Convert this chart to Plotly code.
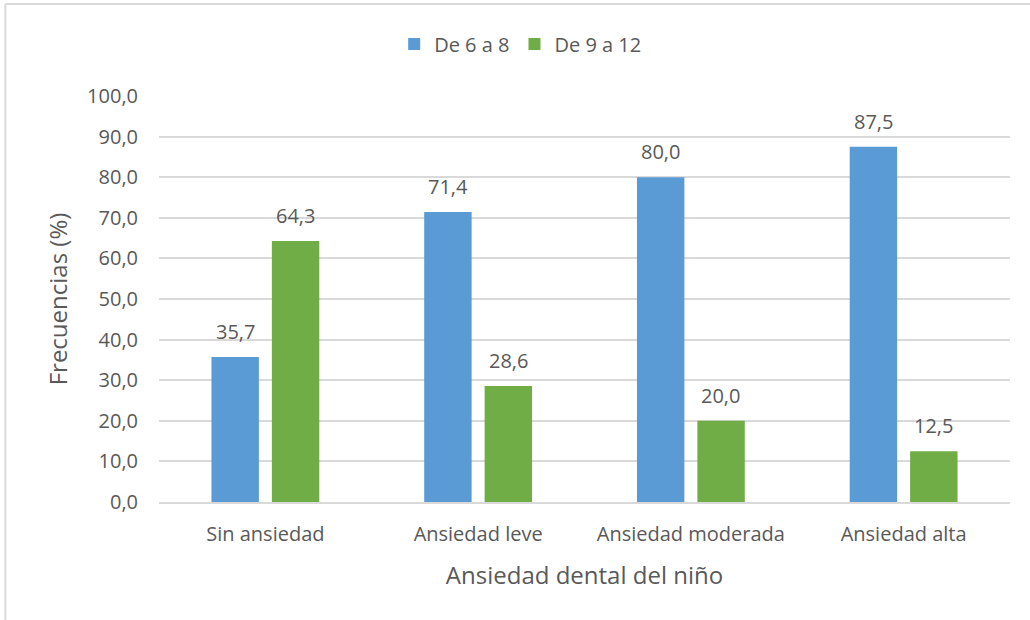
import plotly.graph_objects as go

# Categories and percentages per age group
categorias = ["Sin ansiedad", "Ansiedad leve", "Ansiedad moderada", "Ansiedad alta"]
grupo_6_8 = [35.7, 71.4, 80.0, 87.5]
grupo_9_12 = [64.3, 28.6, 20.0, 12.5]
series = [("De 6 a 8", grupo_6_8, "#5B9BD5"), ("De 9 a 12", grupo_9_12, "#70AD47")]

FONT = "Open Sans"
GRIS = "#595959"

fig = go.Figure()
for nombre, valores, color in series:
    fig.add_trace(go.Bar(
        x=categorias, y=valores, name=nombre,
        marker=dict(color=color, line=dict(width=0)),
    ))

# Value labels above each bar (offset to the bar's slot within its group)
desplazamientos = [-30, 30]
for (nombre, valores, color), dx in zip(series, desplazamientos):
    for cat, v in zip(categorias, valores):
        fig.add_annotation(
            x=cat, y=v, text=f"{v:.1f}".replace(".", ","),
            showarrow=False, xshift=dx, yshift=10, yanchor="bottom",
            font=dict(family=FONT, size=20, color=GRIS),
        )

# Thin outer frame on the top and left edges
fig.add_shape(type="line", xref="paper", yref="paper", x0=-0.18, x1=1.03,
              y0=1.2265, y1=1.2265, line=dict(color="#d9d9d9", width=2))
fig.add_shape(type="line", xref="paper", yref="paper", x0=-0.1805, x1=-0.1805,
              y0=-0.3, y1=1.2265, line=dict(color="#d9d9d9", width=2))

fig.update_layout(
    width=1030, height=620,
    margin=dict(l=159, r=20, t=96, b=118),
    paper_bgcolor="white", plot_bgcolor="white",
    separators=",.",
    barmode="group", bargap=0.432, bargroupgap=0.215,
    font=dict(family=FONT, size=20, color=GRIS),
    showlegend=True,
    legend=dict(orientation="h", x=0.425, xanchor="center", y=1.128, yanchor="middle",
                font=dict(family=FONT, size=20, color=GRIS),
                itemwidth=30, tracegroupgap=0),
    xaxis=dict(
        showgrid=False, showline=True, linecolor="#d9d9d9", linewidth=2,
        ticks="", tickfont=dict(family=FONT, size=20, color=GRIS),
        ticklabelstandoff=13,
        title=dict(text="Ansiedad dental del niño", standoff=21,
                   font=dict(family=FONT, size=24, color=GRIS)),
    ),
    yaxis=dict(
        range=[0, 100], dtick=10, tickformat=".1f",
        showgrid=True, gridcolor="#d9d9d9", gridwidth=1.5,
        zeroline=False, showline=False, ticks="",
        ticklabelstandoff=20,
        tickfont=dict(family=FONT, size=20, color=GRIS),
        title=dict(text="Frecuencias (%)", standoff=12,
                   font=dict(family=FONT, size=24, color=GRIS)),
    ),
)

fig.write_html("out.html")
